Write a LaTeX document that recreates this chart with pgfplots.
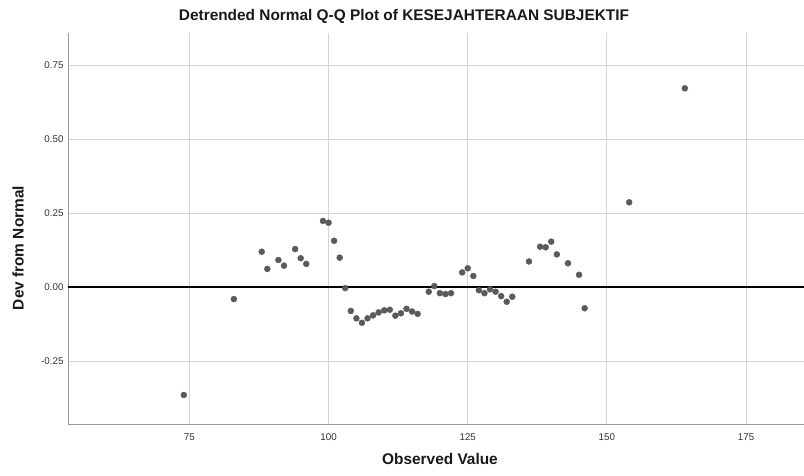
\documentclass[border=0pt]{standalone}
\usepackage{pgfplots}
\pgfplotsset{compat=1.18}
\usepackage{fontspec}
\setmainfont{Liberation Sans}
\definecolor{ptc}{HTML}{5A5A5A}
\definecolor{gridc}{HTML}{D4D4D4}
\definecolor{axc}{HTML}{9A9A9A}
\begin{document}
\begin{tikzpicture}[x=1pt,y=1pt]
\useasboundingbox (0,0) rectangle (804,476);
\begin{axis}[
  at={(68pt,52pt)}, anchor=south west,
  scale only axis, width=736pt, height=391pt,
  xmin=53.2, xmax=185.4, ymin=-0.462, ymax=0.859,
  xtick={75,100,125,150,175},
  ytick={-0.25,0,0.25,0.5,0.75},
  yticklabel style={/pgf/number format/fixed,/pgf/number format/fixed zerofill,/pgf/number format/precision=2},
  /pgf/number format/assume math mode=true,
  ticklabel style={font=\fontsize{9.8}{11}\selectfont, text=black!80},
  major tick length=0pt,
  grid=major, grid style={gridc, line width=0.9pt},
  axis x line*=bottom, axis y line*=left,
  axis line style={axc, line width=0.9pt, -},
  xticklabel style={yshift=-6pt},
  yticklabel style={xshift=-1pt},
  clip=false,
]
\addplot[black, line width=2pt, forget plot] coordinates {(53.2,0) (185.4,0)};
\addplot[only marks, mark=*, mark size=3.0pt, mark options={fill=ptc, draw=ptc}] coordinates {
(74,-0.364) (83,-0.04) (88,0.12) (89,0.062) (91,0.092) (92,0.073) (94,0.129) (95,0.098) (96,0.079)
(99,0.224) (100,0.218) (101,0.157) (102,0.10) (103,-0.003)
(104,-0.08) (105,-0.105) (106,-0.12) (107,-0.105) (108,-0.095) (109,-0.085) (110,-0.078)
(111,-0.076) (112,-0.096) (113,-0.088) (114,-0.073) (115,-0.082) (116,-0.09)
(118,-0.015) (119,0.004) (120,-0.02) (121,-0.023) (122,-0.02)
(124,0.05) (125,0.064) (126,0.038) (127,-0.01) (128,-0.02) (129,-0.007) (130,-0.015)
(131,-0.03) (132,-0.049) (133,-0.032)
(136,0.087) (138,0.137) (139,0.135) (140,0.154) (141,0.111) (143,0.081) (145,0.042) (146,-0.071)
(154,0.287) (164,0.672)
};
\end{axis}
\node[font=\bfseries\fontsize{15.4}{17}\selectfont, text=black!90] at (404,460) {Detrended Normal Q-Q Plot of KESEJAHTERAAN SUBJEKTIF};
\node[font=\bfseries\fontsize{15.4}{17}\selectfont, text=black!90] at (440,17) {Observed Value};
\node[font=\bfseries\fontsize{15.4}{17}\selectfont, text=black!90, rotate=90] at (18,228) {Dev from Normal};
\end{tikzpicture}
\end{document}
